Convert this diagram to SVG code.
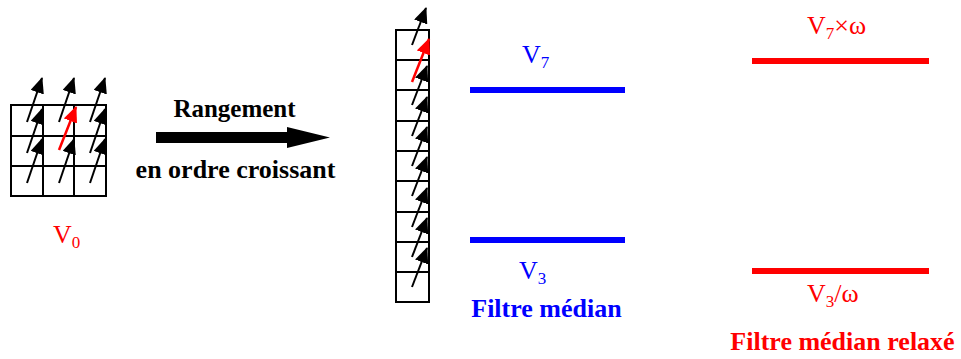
<svg xmlns="http://www.w3.org/2000/svg" width="961" height="359" viewBox="0 0 961 359">
<style>
.cell{fill:none;stroke:#000;stroke-width:2}
.vec{stroke:#000;stroke-width:2;fill:none;marker-end:url(#hk)}
.vecr{stroke:#f00;stroke-width:2.5;fill:none;marker-end:url(#hr)}
.t{font-family:"Liberation Serif","Times New Roman",serif}
.b{font-weight:bold}
.blue{fill:#00f}
.red{fill:#f00}
.blk{fill:#000}
</style>
<defs>
<marker id="hk" viewBox="0 0 16 14" refX="15" refY="7" markerWidth="16" markerHeight="14" markerUnits="userSpaceOnUse" orient="auto"><path d="M0,0 L16,7 L0,14 z" fill="#000"/></marker>
<marker id="hr" viewBox="0 0 16 14" refX="15" refY="7" markerWidth="16" markerHeight="14" markerUnits="userSpaceOnUse" orient="auto"><path d="M0,0 L16,7 L0,14 z" fill="#f00"/></marker>
</defs>
<rect width="961" height="359" fill="#fff"/>

<g id="grid-v0">
<rect class="cell" x="11" y="105" width="95" height="91"/>
<path class="cell" d="M43,105V196M74,105V196M11,136H106M11,166H106"/>
<path class="vec" d="M27,122L42,78"/>
<path class="vec" d="M59,122L74,78"/>
<path class="vec" d="M90,122L105,78"/>
<path class="vec" d="M27,153L42,109"/>
<path class="vec" d="M90,153L105,109"/>
<path class="vec" d="M27,183L42,139"/>
<path class="vec" d="M59,183L74,139"/>
<path class="vec" d="M90,183L105,139"/>
<path class="vecr" d="M59,150L76,107"/>
<text class="t red" x="53" y="243" font-size="26">V<tspan font-size="17" dy="5">0</tspan></text>
</g>

<g id="connectors">
<g id="big-arrow">
<polygon points="156,132 287,132 287,127 330,137.5 287,148 287,143 156,143" fill="#000"/>
<text class="t b blk" x="234.5" y="117" font-size="25" text-anchor="middle">Rangement</text>
<text class="t b blk" x="235.5" y="178" font-size="26" text-anchor="middle">en ordre croissant</text>
</g>
</g>

<g id="sorted-column">
<rect class="cell" x="396" y="30" width="33" height="272"/>
<path class="cell" d="M396,60H429M396,90H429M396,121H429M396,151H429M396,181H429M396,212H429M396,242H429M396,272H429"/>
<path class="vec" d="M412,45L426,8"/>
<path class="vec" d="M412,105L427,66"/>
<path class="vec" d="M412,136L427,97"/>
<path class="vec" d="M412,166L427,127"/>
<path class="vec" d="M412,196L427,157"/>
<path class="vec" d="M412,227L427,188"/>
<path class="vec" d="M412,257L427,218"/>
<path class="vec" d="M412,287L427,248"/>
<path class="vecr" d="M412,82L429,39"/>
</g>

<g id="median-filter">
<line x1="470" y1="90" x2="625" y2="90" stroke="#00f" stroke-width="6"/>
<line x1="470" y1="240" x2="625" y2="240" stroke="#00f" stroke-width="6"/>
<text class="t blue" x="522" y="63" font-size="26">V<tspan font-size="17" dy="5">7</tspan></text>
<text class="t blue" x="519" y="279" font-size="26">V<tspan font-size="17" dy="5">3</tspan></text>
<text class="t b blue" x="546.5" y="317" font-size="26" text-anchor="middle">Filtre médian</text>
</g>

<g id="relaxed-filter">
<line x1="752" y1="61" x2="929" y2="61" stroke="#f00" stroke-width="6"/>
<line x1="752" y1="271" x2="929" y2="271" stroke="#f00" stroke-width="6"/>
<text class="t red" x="807" y="34" font-size="26">V<tspan font-size="17" dy="5">7</tspan><tspan dy="-5">×ω</tspan></text>
<text class="t red" x="807" y="302" font-size="26">V<tspan font-size="17" dy="5">3</tspan><tspan dy="-5">/ω</tspan></text>
<text class="t b red" x="842.5" y="350" font-size="26" text-anchor="middle">Filtre médian relaxé</text>
</g>
</svg>
